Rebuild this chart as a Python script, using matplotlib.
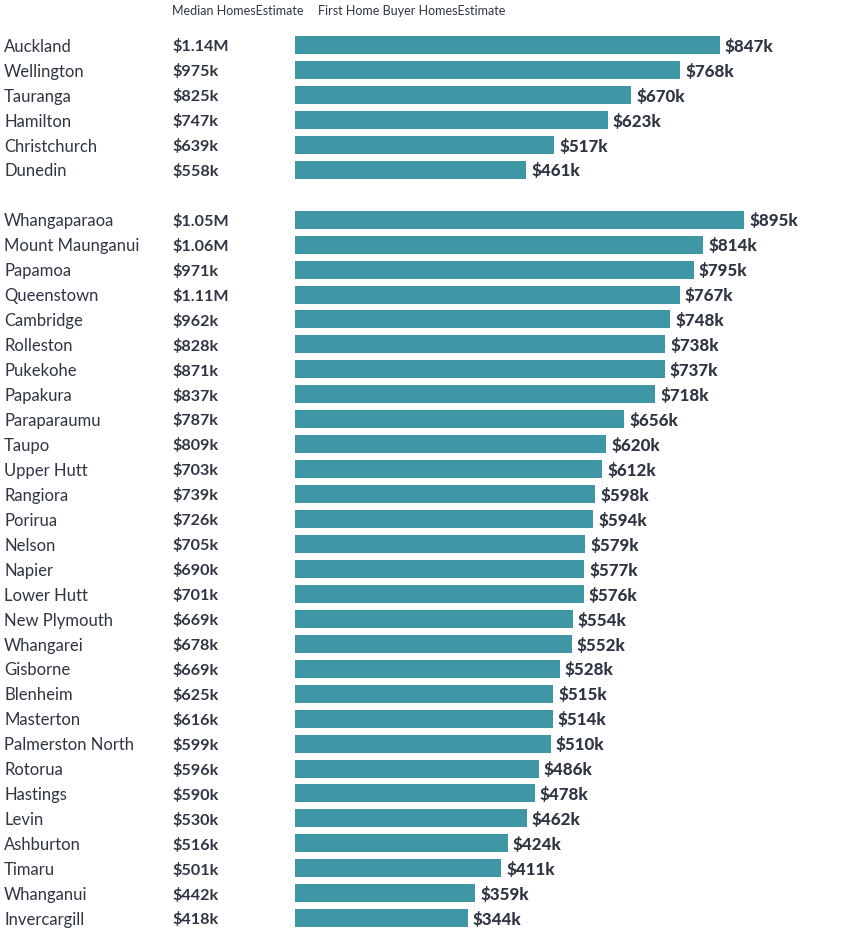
import matplotlib.pyplot as plt

# cities, in display order (top group = main centres, then towns)
main_cities = ['Auckland', 'Wellington', 'Tauranga', 'Hamilton', 'Christchurch', 'Dunedin']
main_median = ['$1.14M', '$975k', '$825k', '$747k', '$639k', '$558k']
main_fhb = [847, 768, 670, 623, 517, 461]

towns = ['Whangaparaoa', 'Mount Maunganui', 'Papamoa', 'Queenstown', 'Cambridge',
         'Rolleston', 'Pukekohe', 'Papakura', 'Paraparaumu', 'Taupo', 'Upper Hutt',
         'Rangiora', 'Porirua', 'Nelson', 'Napier', 'Lower Hutt', 'New Plymouth',
         'Whangarei', 'Gisborne', 'Blenheim', 'Masterton', 'Palmerston North',
         'Rotorua', 'Hastings', 'Levin', 'Ashburton', 'Timaru', 'Whanganui',
         'Invercargill']
town_median = ['$1.05M', '$1.06M', '$971k', '$1.11M', '$962k', '$828k', '$871k',
               '$837k', '$787k', '$809k', '$703k', '$739k', '$726k', '$705k',
               '$690k', '$701k', '$669k', '$678k', '$669k', '$625k', '$616k',
               '$599k', '$596k', '$590k', '$530k', '$516k', '$501k', '$442k',
               '$418k']
town_fhb = [895, 814, 795, 767, 748, 738, 737, 718, 656, 620, 612, 598, 594, 579,
            577, 576, 554, 552, 528, 515, 514, 510, 486, 478, 462, 424, 411, 359,
            344]

bar_color = '#3f97a6'
text_color = '#2f3542'
font = 'Lato'

# one empty slot between the two groups
names = main_cities + [''] + towns
medians = main_median + [''] + town_median
fhb = main_fhb + [None] + town_fhb
rows = [i for i, v in enumerate(fhb) if v is not None]
vals = [v for v in fhb if v is not None]

W, H = 845, 932
fig = plt.figure(figsize=(W / 100, H / 100), dpi=100)

px_per_k = 0.5017
row_h = 24.95
top_px = 45
x0_px = 295
xmax = 1100
ax = fig.add_axes([x0_px / W, 0, xmax * px_per_k / W, 1])
ax.set_xlim(0, xmax)
ax.set_ylim((H - top_px) / row_h, -top_px / row_h)
ax.axis('off')

dy = 0.07  # text sits a touch below bar centre
ax.barh(rows, vals, height=18 / row_h, color=bar_color)
for r, v in zip(rows, vals):
    ax.text(v + 5 / px_per_k, r + dy, f'${v}k', ha='left', va='center',
            fontsize=12.2, fontweight='black', family=font, color=text_color,
            clip_on=False)

# label columns, positioned in pixels left of the bars
for i, (n, m) in enumerate(zip(names, medians)):
    if not n:
        continue
    ax.text((4 - x0_px) / px_per_k, i + dy, n, ha='left', va='center',
            fontsize=12, family=font, color=text_color, clip_on=False)
    ax.text((172 - x0_px) / px_per_k, i + dy, m, ha='left', va='center',
            fontsize=11.6, fontweight='bold', family=font, color=text_color,
            clip_on=False)

fig.text(172 / W, 1 - 11 / H, 'Median HomesEstimate', ha='left', va='center',
         fontsize=9, family=font, color=text_color)
fig.text(318 / W, 1 - 11 / H, 'First Home Buyer HomesEstimate', ha='left',
         va='center', fontsize=9, family=font, color=text_color)

plt.savefig('out.png', dpi=100)
plt.close()
